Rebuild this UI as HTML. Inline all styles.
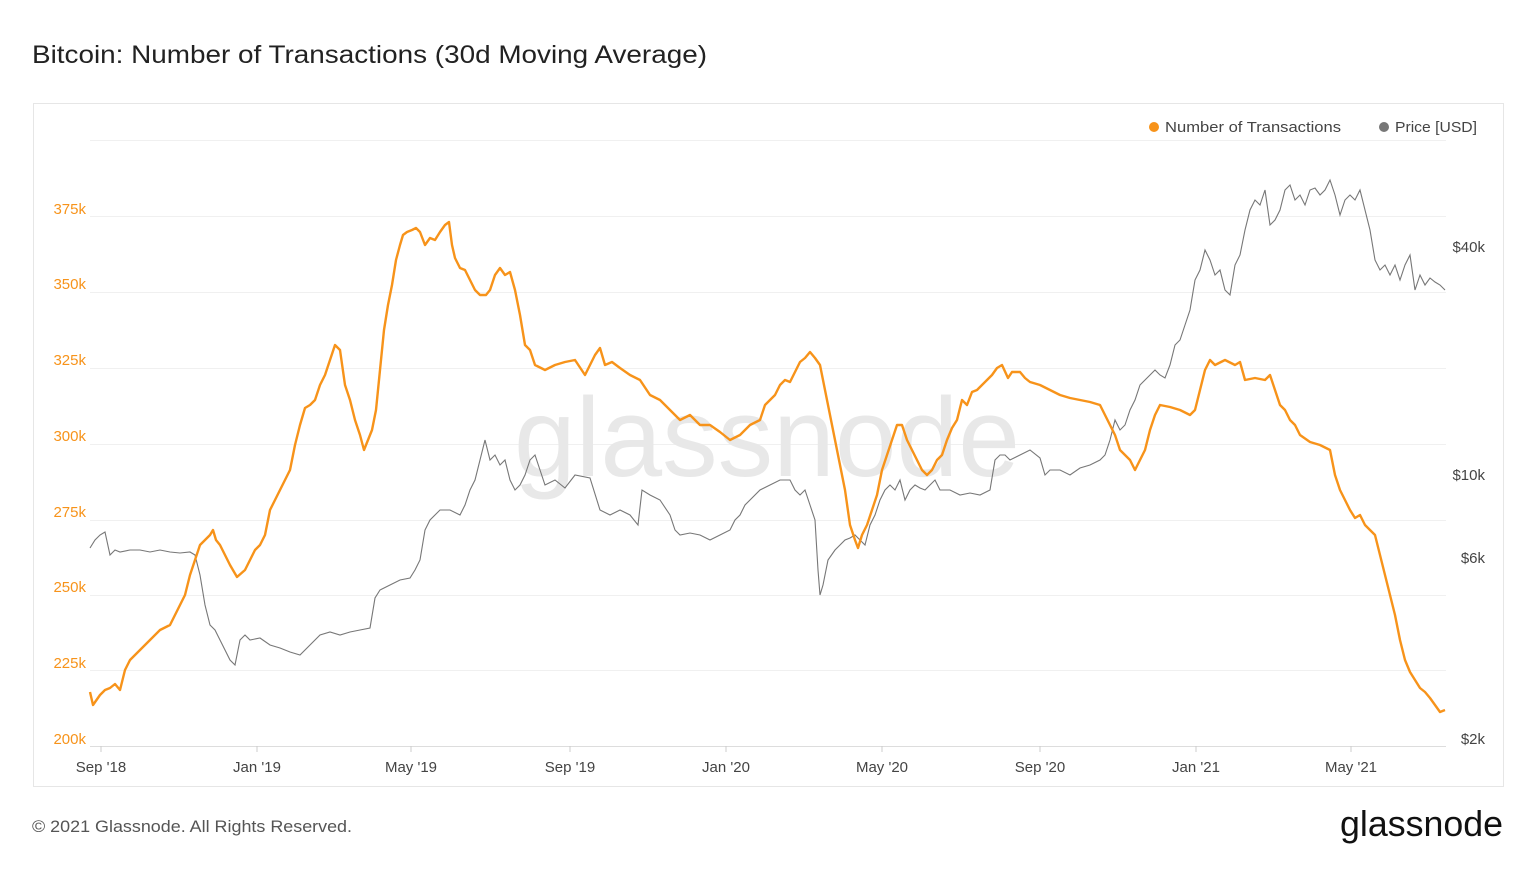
<!DOCTYPE html>
<html><head><meta charset="utf-8"><style>
body{margin:0;background:#fff;width:1536px;height:864px;overflow:hidden;font-family:"Liberation Sans",sans-serif}
</style></head><body>
<svg width="1536" height="864" xmlns="http://www.w3.org/2000/svg" font-family="Liberation Sans, sans-serif">
<text x="32" y="63" font-size="25" fill="#222" textLength="675" lengthAdjust="spacingAndGlyphs">Bitcoin: Number of Transactions (30d Moving Average)</text>
<rect x="33.5" y="103.5" width="1470" height="683" fill="#fff" stroke="#e6e6e6"/>
<g stroke="#f0f0f0" stroke-width="1">
<line x1="90" x2="1446" y1="140.5" y2="140.5"/><line x1="90" x2="1446" y1="216.5" y2="216.5"/>
<line x1="90" x2="1446" y1="292.5" y2="292.5"/><line x1="90" x2="1446" y1="368.5" y2="368.5"/>
<line x1="90" x2="1446" y1="444.5" y2="444.5"/><line x1="90" x2="1446" y1="520.5" y2="520.5"/>
<line x1="90" x2="1446" y1="595.5" y2="595.5"/><line x1="90" x2="1446" y1="670.5" y2="670.5"/>
</g>
<line x1="90" x2="1446" y1="746.5" y2="746.5" stroke="#ddd"/>
<text x="514" y="476" font-size="112" fill="#e8e8e8" textLength="506" lengthAdjust="spacingAndGlyphs">glassnode</text>
<g font-size="15" fill="#f7931a" text-anchor="end">
<text x="86" y="214">375k</text><text x="86" y="289">350k</text><text x="86" y="365">325k</text>
<text x="86" y="441">300k</text><text x="86" y="517">275k</text><text x="86" y="592">250k</text>
<text x="86" y="668">225k</text><text x="86" y="744">200k</text>
</g>
<g font-size="15" fill="#444" text-anchor="end">
<text x="1485" y="252">$40k</text><text x="1485" y="480">$10k</text><text x="1485" y="563">$6k</text><text x="1485" y="744">$2k</text>
</g>
<g font-size="15" fill="#444" text-anchor="middle">
<text x="101" y="772">Sep '18</text><text x="257" y="772">Jan '19</text><text x="411" y="772">May '19</text>
<text x="570" y="772">Sep '19</text><text x="726" y="772">Jan '20</text><text x="882" y="772">May '20</text>
<text x="1040" y="772">Sep '20</text><text x="1196" y="772">Jan '21</text><text x="1351" y="772">May '21</text>
</g>
<g stroke="#ccc"><line x1="101" x2="101" y1="746" y2="752"/><line x1="257" x2="257" y1="746" y2="752"/><line x1="411" x2="411" y1="746" y2="752"/><line x1="570" x2="570" y1="746" y2="752"/><line x1="726" x2="726" y1="746" y2="752"/><line x1="882" x2="882" y1="746" y2="752"/><line x1="1040" x2="1040" y1="746" y2="752"/><line x1="1196" x2="1196" y1="746" y2="752"/><line x1="1351" x2="1351" y1="746" y2="752"/></g>
<circle cx="1154" cy="127" r="5" fill="#f7931a"/><text x="1165" y="132" font-size="15" fill="#444" textLength="176" lengthAdjust="spacingAndGlyphs">Number of Transactions</text>
<circle cx="1384" cy="127" r="5" fill="#777"/><text x="1395" y="132" font-size="15" fill="#444" textLength="82" lengthAdjust="spacingAndGlyphs">Price [USD]</text>
<polyline fill="none" stroke="#777" stroke-width="1.1" points="90,548 95,540 100,535 105,532 110,555 115,550 120,552 130,550 140,550 150,552 160,550 170,552 180,553 190,552 195,555 200,575 205,605 210,625 215,630 220,640 225,650 230,660 235,665 240,640 245,635 250,640 260,638 270,645 280,648 290,652 300,655 310,645 320,635 330,632 340,635 350,632 360,630 370,628 375,598 380,590 390,585 400,580 410,578 415,570 420,560 425,530 430,520 440,510 450,510 460,515 465,505 470,490 475,480 480,460 485,440 490,460 495,455 500,465 505,460 510,480 515,490 520,485 525,475 530,460 535,455 540,470 545,485 555,480 565,488 575,475 590,478 600,510 610,515 620,510 630,515 638,525 642,490 650,495 660,500 670,515 675,530 680,535 690,533 700,535 710,540 720,535 730,530 735,520 740,515 745,505 750,500 760,490 770,485 780,480 790,480 795,490 800,495 805,490 810,505 815,520 818,570 820,595 823,585 828,560 835,550 840,545 845,540 850,538 855,535 860,540 865,545 870,525 875,515 880,500 885,490 890,485 895,490 900,480 905,500 910,490 915,485 920,488 925,490 930,485 935,480 940,490 950,490 960,495 970,493 980,495 990,490 995,460 1000,455 1005,455 1010,460 1020,455 1030,450 1040,458 1045,475 1050,470 1060,470 1070,475 1080,468 1090,465 1100,460 1105,455 1110,440 1115,420 1120,430 1125,425 1130,410 1135,400 1140,385 1145,380 1150,375 1155,370 1160,375 1165,378 1170,365 1175,345 1180,340 1185,325 1190,310 1195,280 1200,270 1205,250 1210,260 1215,275 1220,270 1225,290 1230,295 1235,265 1240,255 1245,230 1250,210 1255,200 1260,205 1265,190 1270,225 1275,220 1280,210 1285,190 1290,185 1295,200 1300,195 1305,205 1310,190 1315,188 1320,195 1325,190 1330,180 1335,195 1340,215 1345,200 1350,195 1355,200 1360,190 1365,210 1370,230 1375,260 1380,270 1385,265 1390,275 1395,265 1400,280 1405,265 1410,255 1415,290 1420,275 1425,285 1430,278 1435,282 1440,285 1445,290"/>
<polyline fill="none" stroke="#f7931a" stroke-width="2.4" stroke-linejoin="round" points="90,692 93,705 100,695 105,690 110,688 115,684 120,690 125,670 130,660 140,650 150,640 160,630 170,625 180,605 185,595 190,575 195,560 200,545 205,540 210,535 213,530 216,540 220,545 225,555 230,565 237,577 245,570 250,560 255,550 260,545 265,535 270,510 275,500 280,490 285,480 290,470 295,445 300,425 305,408 310,405 315,400 320,385 325,375 330,360 335,345 340,350 345,385 350,400 355,420 360,435 364,450 368,440 372,430 376,410 380,370 384,330 388,305 392,285 396,260 400,245 403,235 407,232 412,230 416,228 420,232 425,245 430,238 435,240 440,232 445,225 449,222 452,245 455,258 460,268 465,270 470,280 475,290 480,295 486,295 490,290 495,275 500,268 505,275 510,272 515,290 520,315 525,345 530,350 535,365 545,370 555,365 565,362 575,360 585,375 590,365 595,355 600,348 605,365 612,362 620,368 630,375 640,380 650,395 660,400 670,410 680,420 690,415 700,425 710,425 720,432 730,440 740,435 750,425 760,420 765,405 770,400 775,395 780,385 785,380 790,382 795,372 800,362 805,358 810,352 815,358 820,365 825,390 830,415 835,440 840,465 845,490 850,525 855,540 858,548 862,535 867,525 872,510 877,495 882,470 887,455 892,440 897,425 902,425 907,440 912,450 917,460 922,470 927,475 932,470 937,460 942,455 947,440 952,428 957,420 962,400 967,405 972,392 977,390 982,385 987,380 992,375 997,368 1002,365 1008,378 1012,372 1020,372 1025,378 1030,382 1040,385 1050,390 1060,395 1070,398 1080,400 1090,402 1100,405 1105,415 1110,425 1115,435 1120,450 1125,455 1130,460 1135,470 1140,460 1145,450 1150,430 1155,415 1160,405 1170,407 1180,410 1190,415 1195,410 1200,390 1205,370 1210,360 1215,365 1225,360 1235,365 1240,362 1245,380 1255,378 1265,380 1270,375 1275,390 1280,405 1285,410 1290,420 1295,425 1300,435 1310,442 1320,445 1330,450 1335,475 1340,490 1345,500 1350,510 1355,518 1360,515 1365,525 1370,530 1375,535 1380,555 1385,575 1390,595 1395,615 1400,640 1405,660 1410,672 1415,680 1420,688 1425,692 1430,698 1435,705 1440,712 1445,710"/>
<text x="32" y="832" font-size="17" fill="#555" textLength="320" lengthAdjust="spacingAndGlyphs">© 2021 Glassnode. All Rights Reserved.</text>
<text x="1340" y="836" font-size="36" fill="#111" textLength="163" lengthAdjust="spacingAndGlyphs">glassnode</text>
</svg>
</body></html>
